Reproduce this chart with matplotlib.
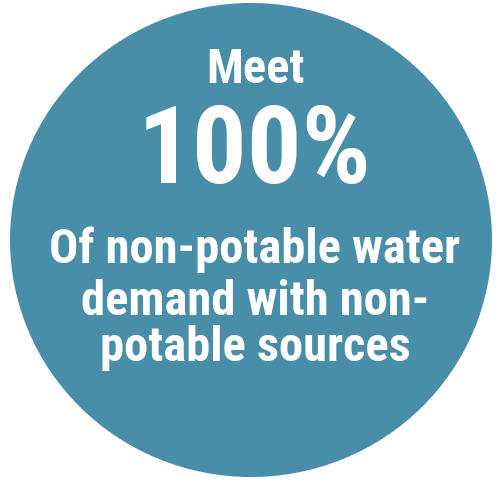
import matplotlib
matplotlib.use("Agg")
import matplotlib.pyplot as plt
from matplotlib.patches import Ellipse

# badge text, top to bottom
lines = ["Meet", "100%", "Of non-potable water", "demand with non-", "potable sources"]
baselines = [83, 183, 263, 315, 361]
sizes = [35, 78, 35, 35, 35]

circle_color = "#488ea8"
condensed = ["Roboto Condensed", "Barlow Condensed", "Liberation Sans", "DejaVu Sans"]

fig = plt.figure(figsize=(4.96, 4.81), dpi=100)
ax = fig.add_axes([0, 0, 1, 1])
ax.set_xlim(0, 496)
ax.set_ylim(481, 0)
ax.axis("off")

ax.add_patch(Ellipse((251, 241), 482, 474, color=circle_color, lw=0))

for txt, y, s in zip(lines, baselines, sizes):
    ax.text(255, y, txt, ha="center", va="baseline", color="white",
            fontsize=s, fontweight="bold", family=condensed)

fig.savefig("out.png", dpi=100)
